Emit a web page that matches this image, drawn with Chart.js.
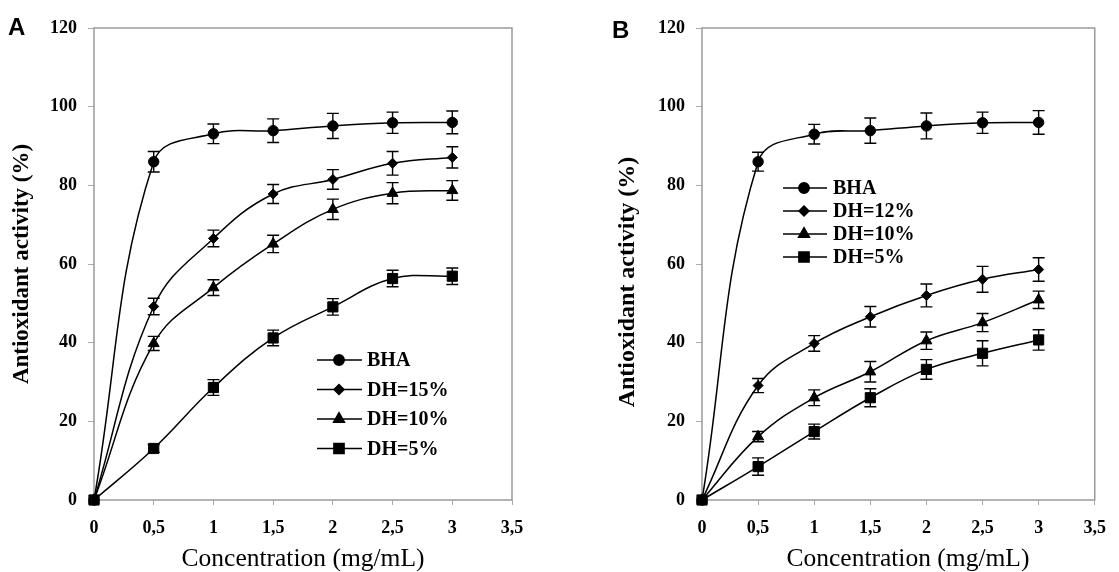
<!DOCTYPE html>
<html><head><meta charset="utf-8">
<script src="https://cdn.jsdelivr.net/npm/chart.js@4.4.1/dist/chart.umd.min.js"></script>
<style>
html,body{margin:0;padding:0;background:#fff;}
#wrap{position:relative;width:1119px;height:572px;overflow:hidden;background:#fff;}
canvas{position:absolute;top:0;}
.panel{position:absolute;font-family:"Liberation Sans",Arial,sans-serif;font-weight:700;font-size:24px;line-height:1;color:#000;}
</style></head><body>
<div id="wrap">
<canvas id="cA" width="560" height="572" style="left:0px"></canvas>
<canvas id="cB" width="559" height="572" style="left:560px"></canvas>
<div class="panel" style="left:8px;top:15px">A</div>
<div class="panel" style="left:612px;top:18px">B</div>
</div>
<script>
// ---- data ----
const xValues = [0, 0.5, 1, 1.5, 2, 2.5, 3];
const xTickValues = [0, 0.5, 1, 1.5, 2, 2.5, 3, 3.5];
const xTickLabels = ['0', '0,5', '1', '1,5', '2', '2,5', '3', '3,5'];
const yTickValues = [0, 20, 40, 60, 80, 100, 120];

const namesA = ['BHA', 'DH=15%', 'DH=10%', 'DH=5%'];
const aBHA    = [0, 86.0, 93.1, 93.9, 95.1, 95.9, 96.0];
const aBHAErr = [0, 2.6, 2.5, 3.0, 3.2, 2.7, 2.9];
const aDH15    = [0, 49.2, 66.5, 77.8, 81.5, 85.6, 87.1];
const aDH15Err = [0, 2.1, 2.1, 2.4, 2.5, 3.0, 2.7];
const aDH10    = [0, 39.8, 54.0, 65.1, 73.9, 78.0, 78.7];
const aDH10Err = [0, 1.8, 2.0, 2.2, 2.6, 2.7, 2.5];
const aDH5    = [0, 13.1, 28.6, 41.2, 49.1, 56.3, 56.9];
const aDH5Err = [0, 1.0, 2.0, 2.0, 2.1, 2.1, 2.1];

const namesB = ['BHA', 'DH=12%', 'DH=10%', 'DH=5%'];
const bBHA    = [0, 86.0, 93.0, 93.9, 95.1, 95.9, 96.0];
const bBHAErr = [0, 2.4, 2.5, 3.2, 3.3, 2.7, 3.0];
const bDH12    = [0, 29.1, 39.8, 46.6, 52.0, 56.1, 58.6];
const bDH12Err = [0, 1.8, 2.0, 2.6, 2.9, 3.3, 3.0];
const bDH10    = [0, 16.1, 26.0, 32.6, 40.5, 45.1, 50.9];
const bDH10Err = [0, 1.3, 2.0, 2.6, 2.2, 2.3, 2.2];
const bDH5    = [0, 8.5, 17.4, 26.0, 33.2, 37.3, 40.7];
const bDH5Err = [0, 2.2, 1.9, 2.3, 2.5, 3.2, 2.6];

const yTitleA = 'Antioxidant activity (%)';
const yTitleB = 'Antioxidant activity (%)      ';
const xTitleA = 'Concentration (mg/mL)';
const xTitleB = '   Concentration (mg/mL)';

// ---- styling / plugins ----
const SERIF = '"Liberation Serif", "Times New Roman", serif';
const markerStyles = [
  {style: 'circle', r: 5.2},
  {style: 'rectRot', r: 5},
  {style: 'triangle', r: 6.3},
  {style: 'rect', r: 7.2}
];

const framePlugin = {
  id: 'frame',
  beforeDatasetsDraw(chart) {
    const a = chart.chartArea, ctx = chart.ctx;
    ctx.save();
    ctx.strokeStyle = '#9a9a9a';
    ctx.lineWidth = 1.5;
    ctx.strokeRect(a.left, a.top, a.right - a.left, a.bottom - a.top);
    ctx.restore();
  }
};

const errPlugin = {
  id: 'errbars',
  beforeDatasetsDraw(chart) {
    const ctx = chart.ctx, xs = chart.scales.x, ys = chart.scales.y;
    ctx.save();
    ctx.strokeStyle = '#000';
    ctx.lineWidth = 1.4;
    chart.data.datasets.forEach(ds => {
      ds.data.forEach((p, j) => {
        const e = ds.errs[j];
        if (!e) return;
        const px = xs.getPixelForValue(p.x);
        const y1 = ys.getPixelForValue(p.y + e), y2 = ys.getPixelForValue(p.y - e);
        ctx.beginPath();
        ctx.moveTo(px, y1); ctx.lineTo(px, y2);
        ctx.moveTo(px - 6, y1); ctx.lineTo(px + 6, y1);
        ctx.moveTo(px - 6, y2); ctx.lineTo(px + 6, y2);
        ctx.stroke();
      });
    });
    ctx.restore();
  }
};

const legendPlugin = {
  id: 'boxLegend',
  afterDatasetsDraw(chart, args, opts) {
    const ctx = chart.ctx;
    ctx.save();
    chart.data.datasets.forEach((ds, i) => {
      const y = opts.y0 + i * opts.dy;
      ctx.strokeStyle = '#000'; ctx.fillStyle = '#000'; ctx.lineWidth = 1.5;
      ctx.beginPath(); ctx.moveTo(opts.x1, y); ctx.lineTo(opts.x2, y); ctx.stroke();
      Chart.helpers.drawPoint(ctx, {pointStyle: ds.pointStyle, radius: ds.pointRadius, rotation: 0, borderWidth: 1}, opts.xm, y);
      ctx.font = '700 20px ' + SERIF;
      ctx.textBaseline = 'middle';
      ctx.textAlign = 'left';
      ctx.fillText(ds.label, opts.xt, y + 1);
    });
    ctx.restore();
  }
};

function buildChart(id, names, values, errors, geom) {
  const datasets = names.map((n, i) => ({
    label: n,
    data: xValues.map((x, j) => ({x: x, y: values[i][j]})),
    errs: errors[i],
    borderColor: '#000',
    backgroundColor: '#000',
    borderWidth: 1.5,
    pointStyle: markerStyles[i].style,
    pointRadius: markerStyles[i].r,
    pointHoverRadius: markerStyles[i].r,
    pointBackgroundColor: '#000',
    pointBorderColor: '#000',
    pointBorderWidth: 1,
    tension: 0.4,
    fill: false,
    clip: false
  }));
  return new Chart(document.getElementById(id), {
    type: 'line',
    data: {datasets},
    options: {
      responsive: false,
      animation: false,
      devicePixelRatio: 1,
      events: [],
      layout: {padding: {left: 0, top: 28, right: geom.padRight, bottom: 0}},
      plugins: {
        legend: {display: false},
        tooltip: {enabled: false},
        boxLegend: geom.legend
      },
      scales: {
        x: {
          type: 'linear', min: 0, max: 3.5,
          afterBuildTicks: s => { s.ticks = xTickValues.map(v => ({value: v})); },
          afterFit: s => { s.height = 72; },
          ticks: {
            callback: (v, i) => xTickLabels[i],
            font: {family: SERIF, size: 18, weight: 'bold'},
            color: '#000', padding: 13, maxRotation: 0, autoSkip: false
          },
          grid: {display: true, drawOnChartArea: false, drawTicks: true, tickLength: 5, color: '#aaaaaa', lineWidth: 1},
          border: {display: false},
          title: {display: true, text: geom.xTitle, font: {family: SERIF, size: 25.5, weight: 'normal'}, color: '#000', padding: {top: 0, bottom: -3}}
        },
        y: {
          type: 'linear', min: 0, max: 120,
          afterBuildTicks: s => { s.ticks = yTickValues.map(v => ({value: v})); },
          afterFit: s => { s.width = geom.yWidth; },
          ticks: {
            font: {family: SERIF, size: 18, weight: 'bold'},
            color: '#000', padding: 11
          },
          grid: {display: true, drawOnChartArea: false, drawTicks: true, tickLength: 6, color: '#aaaaaa', lineWidth: 1},
          border: {display: false},
          title: {display: true, text: geom.yTitle, font: {family: SERIF, size: geom.yTitleSize, weight: 'bold'}, color: '#000', padding: {top: geom.yTitlePad, bottom: 0}}
        }
      }
    },
    plugins: [framePlugin, errPlugin, legendPlugin]
  });
}

buildChart('cA', namesA,
  [aBHA, aDH15, aDH10, aDH5],
  [aBHAErr, aDH15Err, aDH10Err, aDH5Err],
  {padRight: 48, yWidth: 94, yTitle: yTitleA, yTitleSize: 23, yTitlePad: 8, xTitle: xTitleA,
   legend: {x1: 317, x2: 362, xm: 339, xt: 367, y0: 360, dy: 29.5}});

buildChart('cB', namesB,
  [bBHA, bDH12, bDH10, bDH5],
  [bBHAErr, bDH12Err, bDH10Err, bDH5Err],
  {padRight: 14, yWidth: 142, yTitle: yTitleB, yTitleSize: 24, yTitlePad: 53, xTitle: xTitleB,
   legend: {x1: 223, x2: 267, xm: 244, xt: 273, y0: 188, dy: 23}});
</script>
</body></html>
